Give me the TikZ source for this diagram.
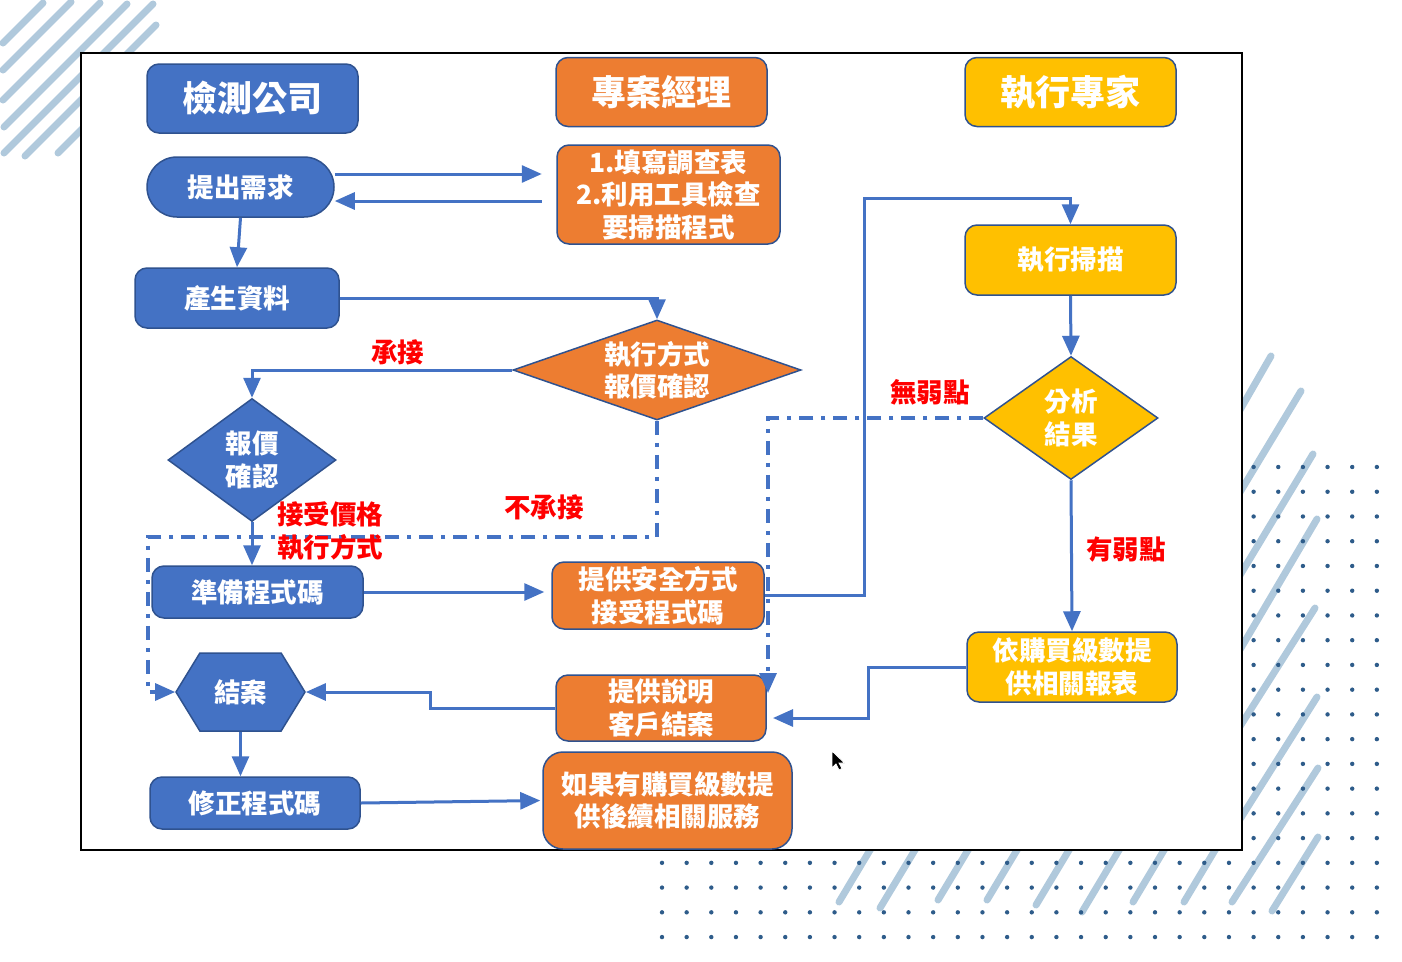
\documentclass[tikz,border=0pt]{standalone}
\usepackage{fontspec}
\setmainfont{Noto Sans CJK TC}
\usepackage{tikz}
\usetikzlibrary{shapes.geometric, shapes.symbols, arrows.meta, positioning}
\definecolor{boxblue}{RGB}{68, 114, 196}
\definecolor{boxorange}{RGB}{237, 125, 49}
\definecolor{boxyellow}{RGB}{255, 192, 0}
\definecolor{edgeblue}{RGB}{47, 82, 143}
\definecolor{linkblue}{RGB}{68, 114, 196}
\definecolor{stripeblue}{RGB}{176, 201, 220}
\definecolor{dotblue}{RGB}{46, 92, 138}

\begin{document}
\begin{tikzpicture}[
    x=1pt, y=-1pt,
    every node/.style = {align=center},
    base/.style = {
        draw=edgeblue, line width=1.5pt, text=white, inner sep=0pt,
        font=\fontsize{26.5}{32.5}\selectfont\bfseries
    },
    box/.style      = {base, rectangle, rounded corners=12pt},
    bluebox/.style  = {box, fill=boxblue},
    orangebox/.style= {box, fill=boxorange},
    yellowbox/.style= {box, fill=boxyellow},
    title/.style    = {box, minimum width=211pt, minimum height=69pt,
                       font=\fontsize{35}{40}\selectfont\bfseries},
    decision/.style = {base, diamond},
    arrow/.style    = {-{Triangle[length=20pt, width=17pt]}, line width=3pt, linkblue},
    dasharrow/.style= {arrow, line width=3.2pt, dash pattern=on 14pt off 8pt on 4pt off 8pt},
    note/.style     = {text=red, inner sep=0pt,
                       font=\fontsize{26.5}{32.5}\selectfont\bfseries},
    stripe/.style   = {line width=7pt, line cap=round, stripeblue},
]
\useasboundingbox (0,0) rectangle (1402,961);

% --- Hintergrund: Streifen und Punkte ---
\draw[stripe] (3,43) -- (43,3);
\draw[stripe] (3,70) -- (71,2);
\draw[stripe] (3,100) -- (100,3);
\draw[stripe] (4,127) -- (127,4);
\draw[stripe] (4,153) -- (153,4);
\draw[stripe] (25,156) -- (156,25);
\draw[stripe] (58,153) -- (110,101);

\draw[stripe] (1225,436) -- (1271,356);
\draw[stripe] (1225,517) -- (1301,391);
\draw[stripe] (1225,600) -- (1313,454);
\draw[stripe] (1225,675) -- (1317,519);
\draw[stripe] (1225,750) -- (1315,608);
\draw[stripe] (1225,843) -- (1317,697);
\draw[stripe] (1232,902) -- (1318,768);
\draw[stripe] (1272,911) -- (1318,837);

\draw[stripe] (839,902) -- (882,830);
\draw[stripe] (880,908) -- (927,830);
\draw[stripe] (938,900) -- (980,830);
\draw[stripe] (987,900) -- (1029,830);
\draw[stripe] (1036,905) -- (1081,830);
\draw[stripe] (1082,912) -- (1131,830);
\draw[stripe] (1133,902) -- (1176,830);
\draw[stripe] (1184,902) -- (1227,830);

\foreach \i in {0,...,29}
    \foreach \j in {0,...,19}
        \fill[dotblue] (662+24.65*\i, 467+24.74*\j) circle (2.2pt);

% --- Rahmen ---
\draw[black, line width=1.2pt, fill=white] (81,53) rectangle (1242,850);

% --- Spaltenköpfe ---
\node[title, fill=boxblue]   (client) at (252.5,98.5) {檢測公司};
\node[title, fill=boxorange] (pm)     at (661.5,92)   {專案經理};
\node[title, fill=boxyellow] (expert) at (1070.5,92)  {執行專家};

% --- Knoten ---
\node[bluebox, rounded corners=30pt, minimum width=187pt, minimum height=60pt]
    (req) at (240.5,187) {提出需求};
\node[orangebox, minimum width=223pt, minimum height=99pt]
    (form) at (668.5,194.5) {1.填寫調查表\\2.利用工具檢查\\要掃描程式};
\node[bluebox, minimum width=204pt, minimum height=60pt]
    (gen) at (237,298) {產生資料};
\node[decision, fill=boxorange, aspect=2.88, minimum width=288pt, minimum height=100pt]
    (quote) at (657,370) {執行方式\\報價確認};
\node[decision, fill=boxblue, aspect=1.37, minimum width=168pt, minimum height=123pt]
    (price) at (252,460) {報價\\確認};
\node[bluebox, minimum width=211pt, minimum height=52pt]
    (prep) at (257.5,592) {準備程式碼};
\node[orangebox, minimum width=212pt, minimum height=67pt]
    (safe) at (658,595.5) {提供安全方式\\接受程式碼};
\node[yellowbox, minimum width=211pt, minimum height=70pt]
    (scan) at (1070.5,260) {執行掃描};
\node[decision, fill=boxyellow, aspect=1.41, minimum width=174pt, minimum height=123pt]
    (ana) at (1071,418) {分析\\結果};
\node[yellowbox, minimum width=210pt, minimum height=70pt]
    (report) at (1072,667) {依購買級數提\\供相關報表};
\node[orangebox, minimum width=210pt, minimum height=66pt]
    (explain) at (661,708) {提供說明\\客戶結案};
\node[base, signal, signal to=west and east, signal pointer angle=117, fill=boxblue,
      minimum width=129pt, minimum height=78pt]
    (close) at (240.5,692) {結案};
\node[bluebox, minimum width=210pt, minimum height=52pt]
    (fix) at (255,803) {修正程式碼};
\node[orangebox, rounded corners=20pt, minimum width=249pt, minimum height=97pt]
    (more) at (667.5,800.5) {如果有購買級數提\\供後續相關服務};

% --- Verbindungen ---
\draw[arrow] (req.east) ++(0,-13) -- ++(207,0);
\draw[arrow] (req.east) ++(207,14) -- ++(-207,0);
\draw[arrow] (req.south) -- (gen.north);
\draw[arrow] (gen.east) -| (quote.north);

% 承接 / 不承接
\draw[arrow] (quote.west) -| (price.north)
    node[note, pos=0.22, above=3pt] {承接};
\coordinate (nq) at (148,537);
\draw[dasharrow] (quote.south) |- (nq) |- (close.west);
\node[note] (nolabel) at (544,507) {不承接};

% 接受價格
\draw[arrow] (price.south) -- (price.south |- prep.north);
\node[note] (oklabel) at (330,531) {接受價格\\執行方式};
\draw[arrow, shorten >=7pt] (prep.east) -- (prep.east -| safe.west);

% 專家
\coordinate (up) at (864,198);
\draw[arrow] (safe.east) -| (up) -| (scan.north);
\draw[arrow] (scan.south) -- (ana.north);

\coordinate (nv) at (768,693);
\draw[dasharrow] (ana.west) -| (nv);
\node[note] (nvlabel) at (930,392) {無弱點};

\draw[arrow] (ana.south) -- (report.north);
\node[note] (yvlabel) at (1126,550) {有弱點};

\coordinate (rin) at (773,718);
\draw[arrow] (report.west) -- ++(-98,0) |- (rin);

% 結案
\draw[arrow] (explain.west) -- ++(-125,0) |- (close.east);
\draw[arrow] (close.south) -- (close.south |- fix.north);
\draw[arrow, shorten >=2pt] (fix.east) -- (more.west);

% --- Mauszeiger ---
\draw[fill=black, draw=white, line width=0.8pt]
    (832,751) -- ++(0,17) -- ++(4,-4) -- ++(3,6) -- ++(3,-1.5)
    -- ++(-3,-5.5) -- ++(5.5,0) -- cycle;

\end{tikzpicture}
\end{document}
